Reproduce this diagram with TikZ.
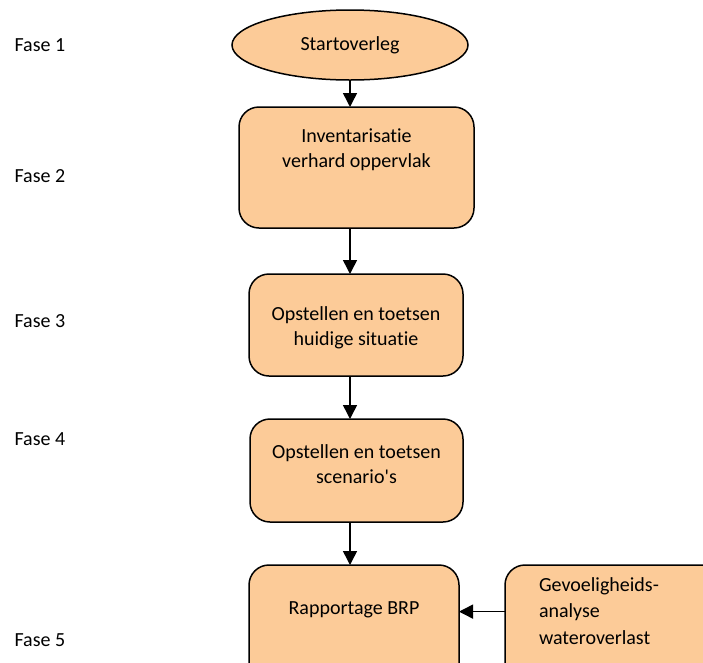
\documentclass[tikz,border=0pt]{standalone}
\usepackage{fontspec}
\setmainfont[Ligatures=NoCommon]{Carlito}
\usetikzlibrary{shapes.geometric,arrows.meta}
\definecolor{fasekleur}{HTML}{FCCB98}

\begin{document}
\begin{tikzpicture}[x=1pt,y=-1pt,
  every node/.style={font=\fontsize{20}{25}\selectfont},
  stap/.style={draw,line width=1.5pt,fill=fasekleur,rounded corners=20pt,
    inner xsep=0pt,inner ysep=0pt,outer sep=0pt,align=center,anchor=north west},
  pijl/.style={line width=1.5pt,-{Triangle[length=14pt,width=14pt]}}]
\path[use as bounding box] (0,0) rectangle (703,662);
\clip (0,0) rectangle (703,662);

\foreach \n/\y in {1/45,2/176,3/321,4/439,5/640}{
  \node[anchor=west] (fase\n) at (11,\y) {Fase \n};
}

\node[ellipse,draw,line width=1.5pt,fill=fasekleur,minimum width=236pt,
  minimum height=70pt,inner sep=0pt] (start) at (350,45) {Startoverleg};
\node[stap,minimum width=235pt,text height=60pt,text depth=61pt] (inv) at (239,107)
  {Inventarisatie\\verhard oppervlak};
\node[stap,minimum width=214pt,text height=71pt,text depth=31pt] (huid) at (249,274)
  {Opstellen en toetsen\\huidige situatie};
\node[stap,minimum width=213pt,text height=64pt,text depth=39pt] (scen) at (250,419)
  {Opstellen en toetsen\\scenario\textquotesingle s};
\node[stap,minimum width=210pt,text height=49pt,text depth=76pt] (rap) at (249,565)
  {Rapportage BRP};
\node[stap,align=left,text width=180pt,inner xsep=34pt,text height=26pt,text depth=99pt,
  font=\fontsize{20}{26.5}\selectfont] (gev) at (505,565)
  {Gevoeligheids-\\analyse\\wateroverlast};

\foreach \van/\naar in {start/inv,inv/huid,huid/scen,scen/rap}{
  \draw[pijl] (\van.south -| start.south) -- (\naar.north -| start.south);
}
\draw[pijl] (gev.west |- rap.mid) -- (rap.east |- rap.mid);
\end{tikzpicture}
\end{document}
